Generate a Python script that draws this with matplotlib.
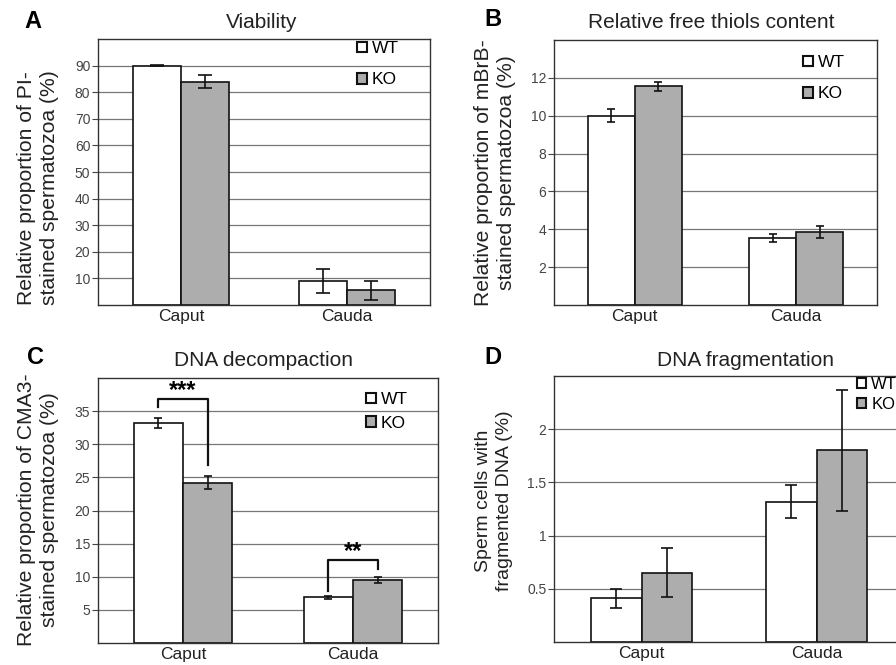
import matplotlib
matplotlib.use('Agg')
import numpy as np
import matplotlib.pyplot as plt

plt.rcParams['font.family'] = ['Liberation Sans', 'DejaVu Sans']

W, H = 896, 665

groups = ['Caput', 'Cauda']
series = ['WT', 'KO']

# A - viability
via_wt     = [90.0, 9.0]
via_wt_err = [0.3, 4.5]
via_ko     = [84.0, 5.5]
via_ko_err = [2.3, 3.5]

# B - free thiols
thiol_wt     = [10.0, 3.55]
thiol_wt_err = [0.33, 0.2]
thiol_ko     = [11.55, 3.85]
thiol_ko_err = [0.25, 0.32]

# C - DNA decompaction
cma_wt     = [33.2, 6.9]
cma_wt_err = [0.7, 0.25]
cma_ko     = [24.2, 9.5]
cma_ko_err = [1.0, 0.5]
# significance: label, bracket top, left foot, right foot
cma_sig_labels = ['***', '**']
cma_sig_top    = [36.8, 12.5]
cma_sig_left   = [35.6, 7.8]
cma_sig_right  = [26.8, 11.1]

# D - DNA fragmentation
frag_wt     = [0.41, 1.32]
frag_wt_err = [0.09, 0.155]
frag_ko     = [0.65, 1.80]
frag_ko_err = [0.23, 0.57]

via_ticks   = [10, 20, 30, 40, 50, 60, 70, 80, 90]
thiol_ticks = [2, 4, 6, 8, 10, 12]
cma_ticks   = [5, 10, 15, 20, 25, 30, 35]
frag_ticks  = [0.5, 1.0, 1.5, 2.0]
frag_tick_labels = ['0.5', '1', '1.5', '2']

KO_COLOR = '#adadad'
BW = 0.29


def px_rect(l, t, r, b):
    return [l / W, 1 - b / H, (r - l) / W, (b - t) / H]


def fx(x):
    return x / W


def fy(y):
    return 1 - y / H


def draw_panel(ax, wt, wt_err, ko, ko_err, ymax, ticks, tick_labels=None,
               capsize=3.5):
    x = np.arange(len(groups))
    ax.bar(x - BW / 2, wt, BW, color='white', edgecolor='#111111',
           lw=1.2, zorder=2, label=series[0])
    ax.bar(x + BW / 2, ko, BW, color=KO_COLOR, edgecolor='#111111',
           lw=1.2, zorder=2, label=series[1])
    ax.errorbar(x - BW / 2, wt, yerr=wt_err, fmt='none', ecolor='#111111',
                elinewidth=1.2, capsize=capsize, capthick=1.2, zorder=3)
    ax.errorbar(x + BW / 2, ko, yerr=ko_err, fmt='none', ecolor='#111111',
                elinewidth=1.2, capsize=capsize, capthick=1.2, zorder=3)

    ax.set_xlim(-0.5, 1.5)
    ax.set_ylim(0, ymax)
    ax.set_yticks(ticks)
    if tick_labels is not None:
        ax.set_yticklabels(tick_labels)
    ax.set_xticks(x)
    ax.set_xticklabels(groups, fontsize=12.5)
    ax.tick_params(axis='x', length=0, pad=3, colors='#222222')
    ax.tick_params(axis='y', length=4, width=0.8, pad=1.5, labelsize=10,
                   direction='out', colors='#444444')
    ax.grid(axis='y', color='#777777', lw=0.9, zorder=0)
    ax.set_axisbelow(True)
    for s in ax.spines.values():
        s.set_color('#333333')
        s.set_linewidth(1.0)


def add_legend(ax, x, y, spacing, size=12.5):
    leg = ax.legend(loc='upper left', bbox_to_anchor=(fx(x), fy(y)),
                    bbox_transform=fig.transFigure, frameon=False,
                    fontsize=size, handlelength=0.55, handleheight=0.55,
                    handletextpad=0.3, labelspacing=spacing, borderpad=0,
                    borderaxespad=0)
    for h in leg.legend_handles:
        h.set_linewidth(1.5)


fig = plt.figure(figsize=(W / 100, H / 100), dpi=100)

axA = fig.add_axes(px_rect(98, 39, 430, 305))
axB = fig.add_axes(px_rect(554, 40, 877, 305))
axC = fig.add_axes(px_rect(98, 378, 438, 643))
axD = fig.add_axes(px_rect(554, 376, 904, 642))

draw_panel(axA, via_wt, via_wt_err, via_ko, via_ko_err, 100, via_ticks,
           capsize=5)
draw_panel(axB, thiol_wt, thiol_wt_err, thiol_ko, thiol_ko_err, 14,
           thiol_ticks, capsize=3)
draw_panel(axC, cma_wt, cma_wt_err, cma_ko, cma_ko_err, 40, cma_ticks,
           capsize=3)
draw_panel(axD, frag_wt, frag_wt_err, frag_ko, frag_ko_err, 2.5, frag_ticks,
           frag_tick_labels, capsize=4)

add_legend(axA, 357, 41, 0.95)
add_legend(axB, 803, 55, 0.95)
add_legend(axC, 366, 392, 0.5)
add_legend(axD, 857, 377, 0.3, size=12)

# significance brackets in C
for i, lab in enumerate(cma_sig_labels):
    xl, xr = i - BW / 2, i + BW / 2
    axC.plot([xl, xl, xr, xr],
             [cma_sig_left[i], cma_sig_top[i], cma_sig_top[i], cma_sig_right[i]],
             color='#111111', lw=1.6, zorder=4, clip_on=False)
    axC.annotate(lab, (i, cma_sig_top[i]), xytext=(0, 1.5),
                 textcoords='offset points', ha='center', va='baseline',
                 fontsize=17, fontweight='bold')

# titles
title_kw = dict(ha='center', va='center', fontsize=15, color='#222222')
fig.text(fx(262), fy(22), 'Viability', **title_kw)
fig.text(fx(711), fy(22), 'Relative free thiols content', **title_kw)
fig.text(fx(263), fy(360), 'DNA decompaction', **title_kw)
fig.text(fx(745), fy(360), 'DNA fragmentation', **title_kw)

# panel letters
letter_kw = dict(ha='center', va='center', fontsize=17, fontweight='bold')
fig.text(fx(33), fy(21), 'A', **letter_kw)
fig.text(fx(493), fy(20), 'B', **letter_kw)
fig.text(fx(35), fy(358), 'C', **letter_kw)
fig.text(fx(493), fy(358), 'D', **letter_kw)

# y labels
ylab_kw = dict(ha='center', va='center', rotation=90, fontsize=15.2,
               multialignment='center', color='#222222', linespacing=1.3)
fig.text(fx(38), fy(188), 'Relative proportion of PI-\nstained spermatozoa (%)',
         **ylab_kw)
fig.text(fx(495), fy(173), 'Relative proportion of mBrB-\nstained spermatozoa (%)',
         **ylab_kw)
fig.text(fx(38), fy(510), 'Relative proportion of CMA3-\nstained spermatozoa (%)',
         **ylab_kw)
ylab_kw['fontsize'] = 14
fig.text(fx(494), fy(501), 'Sperm cells with\nfragmented DNA (%)', **ylab_kw)

fig.savefig('out.png', dpi=100)
